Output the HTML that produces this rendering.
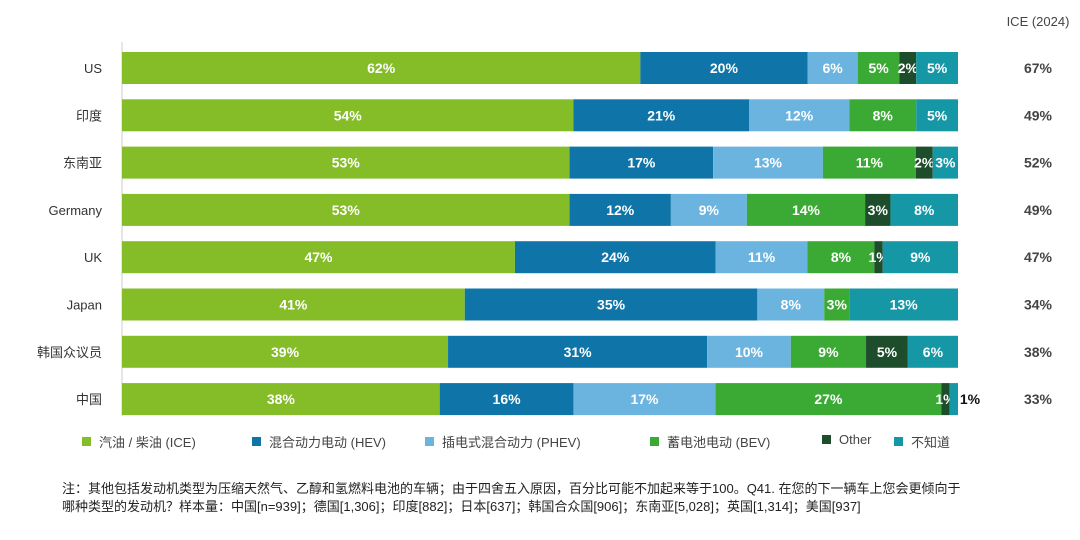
<!DOCTYPE html>
<html><head><meta charset="utf-8"><style>
body{margin:0;background:#fff;width:1080px;height:540px;overflow:hidden;font-family:"Liberation Sans","Noto Sans CJK SC",sans-serif}
.leg{position:absolute;top:432px;font-size:13px;color:#444;display:flex;align-items:center}
.leg i{display:inline-block;width:9px;height:9px;margin-right:8px}
#note{position:absolute;left:62px;top:480px;font-size:13px;color:#222;line-height:18px;width:900px}
</style></head><body>
<svg id="chart" width="1080" height="430" style="position:absolute;left:0;top:0"></svg>
<div class="leg" style="left:82px"><i style="background:#84bd28"></i>汽油 / 柴油 (ICE)</div>
<div class="leg" style="left:252px"><i style="background:#0f75a8"></i>混合动力电动 (HEV)</div>
<div class="leg" style="left:425px"><i style="background:#6cb4e0"></i>插电式混合动力 (PHEV)</div>
<div class="leg" style="left:650px"><i style="background:#3aaa35"></i>蓄电池电动 (BEV)</div>
<div class="leg" style="left:822px"><i style="background:#1e4d2b"></i>Other</div>
<div class="leg" style="left:894px"><i style="background:#1597a5"></i>不知道</div>
<div id="note">注：其他包括发动机类型为压缩天然气、乙醇和氢燃料电池的车辆；由于四舍五入原因，百分比可能不加起来等于100。Q41. 在您的下一辆车上您会更倾向于哪种类型的发动机？样本量：中国[n=939]；德国[1,306]；印度[882]；日本[637]；韩国合众国[906]；东南亚[5,028]；英国[1,314]；美国[937]</div>
<script>
const categories=["US","印度","东南亚","Germany","UK","Japan","韩国众议员","中国"];
const ice=[62,54,53,53,47,41,39,38];
const hev=[20,21,17,12,24,35,31,16];
const phev=[6,12,13,9,11,8,10,17];
const bev=[5,8,11,14,8,3,9,27];
const other=[2,0,2,3,1,0,5,1];
const unknown=[5,5,3,8,9,13,6,1];
const ice2024=["67%","49%","52%","49%","47%","34%","38%","33%"];
const series=[ice,hev,phev,bev,other,unknown];
const colors=["#84bd28","#0f75a8","#6cb4e0","#3aaa35","#1e4d2b","#1597a5"];
const names=["ice","hev","phev","bev","other","unknown"];
const svg=document.getElementById('chart');const NS="http://www.w3.org/2000/svg";
const x0=122,W=836,y0=68,step=47.3,bh=32;
function mk(t,a){const e=document.createElementNS(NS,t);for(const k in a)e.setAttribute(k,a[k]);svg.appendChild(e);return e;}
const ax=mk('line',{x1:x0,x2:x0,y1:42,y2:416,stroke:'#ccc','stroke-width':1});


const ht=mk('text',{x:1038,y:26,'text-anchor':'middle','font-size':13,fill:'#444'});ht.textContent='ICE (2024)';


categories.forEach((c,i)=>{
 const cy=y0+i*step;
 const tot=series.reduce((s,a)=>s+a[i],0);
 const l=mk('text',{x:102,y:cy+5,'text-anchor':'end','font-size':13,fill:'#333'});l.textContent=c;
 
 
 let acc=0;
 series.forEach((s,j)=>{
  const v=s[i];if(!v)return;
  const x=x0+acc/tot*W,w=v/tot*W;acc+=v;
  const r=mk('rect',{x:x,y:cy-bh/2,width:w,height:bh,fill:colors[j]});
  
  
  const out=(i===categories.length-1&&j===5);
  const t=mk('text',{x:out?x+w+12:x+w/2,y:cy+5,'text-anchor':'middle','font-size':14,'font-weight':'bold',fill:out?'#111':'#fff'});t.textContent=v+'%';
  
  
 });
 const r2=mk('text',{x:1038,y:cy+5,'text-anchor':'middle','font-size':14,'font-weight':'bold',fill:'#444'});r2.textContent=ice2024[i];
 
 
});
</script>
</body></html>
